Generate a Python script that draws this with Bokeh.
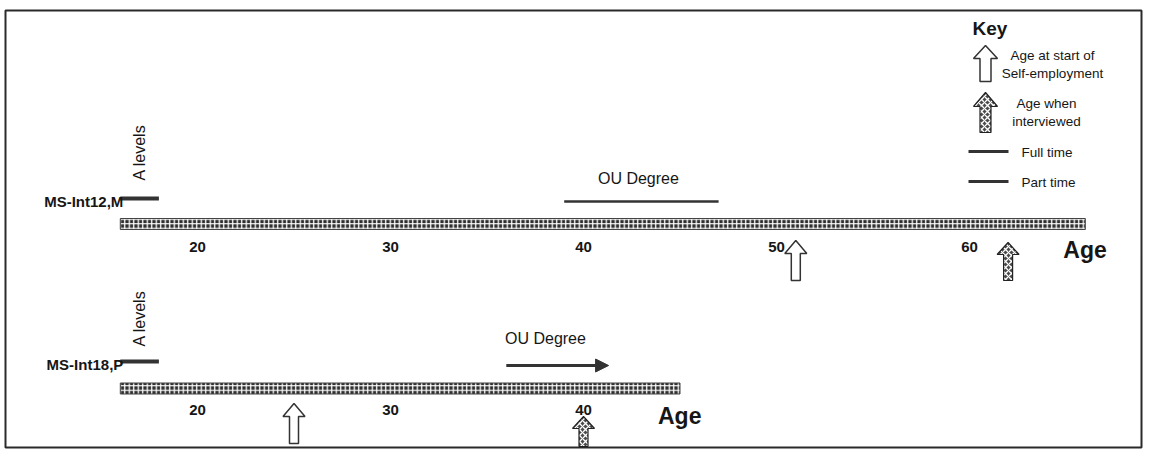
import math
from bokeh.plotting import figure
from bokeh.models import Range1d, ColumnDataSource, Arrow, NormalHead
from bokeh.core.properties import value
from bokeh.embed import file_html
from bokeh.resources import INLINE

# ---------------- data ----------------
people = ["MS-Int12,M", "MS-Int18,P"]
timeline_start = [16, 16]
timeline_end = [66, 45]
age_self_employed = [51, 25]
age_interviewed = [62, 40]
alevel_start = [16, 16]
alevel_end = [18, 18]
ou_start = [39, 36]
ou_end = [47, 41.3]
ou_ongoing = [False, True]
tick_ages = [[20, 30, 40, 50, 60], [20, 30, 40]]
tick_labels = [["20", "30", "40", "50", "60"], ["20", "30", "40"]]
key_labels = ["Age at start of\nSelf-employment", "Age when\ninterviewed", "Full time", "Part time"]

# ---------------- layout ----------------
W, H = 1143, 449
PX = 19.3              # pixels per year
X0 = 189 / PX          # age at left edge of canvas
X1 = X0 + W / PX
FONT = value("Liberation Sans")
INK = "#161616"


def px2age(px):
    return (px + 189) / PX


p = figure(width=W, height=H, output_backend="svg", toolbar_location=None,
           x_range=Range1d(X0, X1), y_range=Range1d(H, 0),
           min_border=0, min_border_left=0, min_border_right=0,
           min_border_top=0, min_border_bottom=0)
p.axis.visible = False
p.grid.visible = False
p.outline_line_color = None
p.background_fill_color = "white"

# outer frame
p.quad(left=[px2age(5)], right=[px2age(1141)], top=[10], bottom=[447],
       fill_color=None, line_color="#2a2a2a", line_width=2)

rows = [
    dict(bar=223.5, al=198, al_txt=152, ou=201, ou_txt=178, ou_dx=-3, tick=246,
         se_tip=240, se_bot=280, iv_tip=242, iv_bot=280, age_txt=249),
    dict(bar=388, al=361, al_txt=318, ou=365, ou_txt=338, ou_dx=-12, tick=409,
         se_tip=403, se_bot=443, iv_tip=416, iv_bot=446, age_txt=415),
]


def arrow_poly(xc, tip, bot, head_w, shaft_w, head_h):
    hw, sw = head_w / 2 / PX, shaft_w / 2 / PX
    xs = [xc, xc + hw, xc + sw, xc + sw, xc - sw, xc - sw, xc - hw]
    ys = [tip, tip + head_h, tip + head_h, bot, bot, tip + head_h, tip + head_h]
    return xs, ys


se_style = dict(fill_color="white", line_color="#333333", line_width=1.5)
iv_style = dict(fill_color="#4a4a4a", line_color="#222222", line_width=1.2,
                hatch_pattern="diagonal_cross", hatch_color="white",
                hatch_scale=6, hatch_weight=1.3)
line_col = "#333333"

for i, r in enumerate(rows):
    # timeline bar
    p.quad(left=[timeline_start[i]], right=[timeline_end[i]],
           top=[r["bar"] - 5.5], bottom=[r["bar"] + 5.5],
           fill_color="#2e2e2e", line_color="#444444", line_width=1,
           hatch_pattern="cross", hatch_color="white", hatch_scale=4.5, hatch_weight=1.3)
    # A levels
    p.line([alevel_start[i], alevel_end[i]], [r["al"], r["al"]],
           line_color=line_col, line_width=4)
    p.text(x=[(alevel_start[i] + alevel_end[i]) / 2], y=[r["al_txt"]], text=["A levels"],
           angle=math.pi / 2, text_align="center", text_baseline="middle",
           text_font=FONT, text_font_size="16px", text_color=INK)
    # person label
    p.text(x=[timeline_start[i]], y=[r["al"] + 3], text=[people[i]], x_offset=3,
           text_align="right", text_baseline="middle", text_font=FONT,
           text_font_size="15px", text_font_style="bold", text_color=INK)
    # OU degree
    if ou_ongoing[i]:
        src = ColumnDataSource(dict(x0=[ou_start[i]], x1=[ou_end[i]], y=[r["ou"]]))
        p.add_layout(Arrow(end=NormalHead(size=13, fill_color=line_col, line_color=line_col),
                           x_start="x0", y_start="y", x_end="x1", y_end="y",
                           line_color=line_col, line_width=3, source=src))
    else:
        p.line([ou_start[i], ou_end[i]], [r["ou"], r["ou"]], line_color=line_col, line_width=2.5)
    p.text(x=[(ou_start[i] + ou_end[i]) / 2], y=[r["ou_txt"]], text=["OU Degree"],
           x_offset=r["ou_dx"], text_align="center", text_baseline="middle",
           text_font=FONT, text_font_size="16px", text_color=INK)
    # tick labels
    p.text(x=tick_ages[i], y=[r["tick"]] * len(tick_ages[i]), text=tick_labels[i],
           text_align="center", text_baseline="middle", text_font=FONT,
           text_font_size="15px", text_font_style="bold", text_color=INK)
    # Age label
    p.text(x=[timeline_end[i]], y=[r["age_txt"]], text=["Age"], x_offset=-22,
           text_align="left", text_baseline="middle", text_font=FONT,
           text_font_size="23px", text_font_style="bold", text_color=INK)
    # arrows
    xs, ys = arrow_poly(age_self_employed[i], r["se_tip"], r["se_bot"], 22, 9, 13)
    p.patches([xs], [ys], **se_style)
    xs, ys = arrow_poly(age_interviewed[i], r["iv_tip"], r["iv_bot"], 22, 9, 12)
    p.patches([xs], [ys], **iv_style)

# ---------------- key ----------------
kx = px2age(985)
p.text(x=[kx], y=[28], text=["Key"], x_offset=-13, text_align="left", text_baseline="middle",
       text_font=FONT, text_font_size="19px", text_font_style="bold", text_color=INK)
xs, ys = arrow_poly(kx, 45, 81, 24, 11, 13)
p.patches([xs], [ys], **se_style)
xs, ys = arrow_poly(kx, 92, 132, 24, 11, 14)
p.patches([xs], [ys], **iv_style)
p.text(x=[kx, kx], y=[64, 112], text=key_labels[:2], x_offset=[67, 61],
       text_align="center", text_baseline="middle", text_font=FONT,
       text_font_size="13.5px", text_color=INK, text_line_height=1.2)
for yy, lab in zip([151, 181], key_labels[2:]):
    p.line([kx - 17 / PX, kx + 23 / PX], [yy, yy], line_color=line_col, line_width=3)
    p.text(x=[kx], y=[yy + 1], text=[lab], x_offset=36, text_align="left",
           text_baseline="middle", text_font=FONT, text_font_size="13.5px", text_color=INK)

open("out.html", "w").write(file_html(p, INLINE))
